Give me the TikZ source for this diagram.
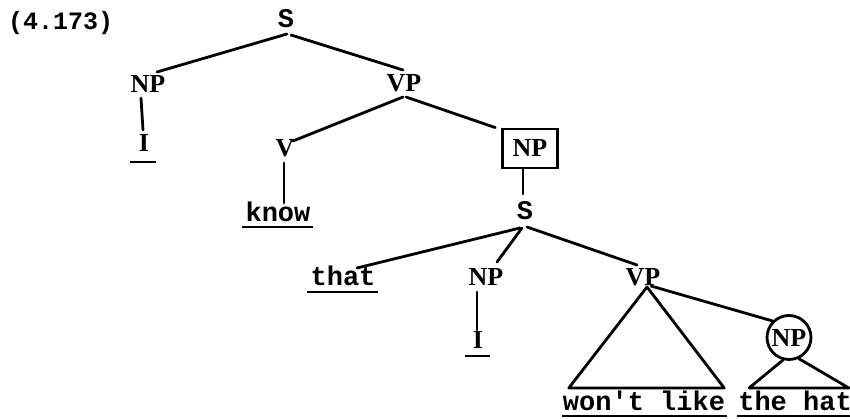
\documentclass[tikz,border=0pt]{standalone}
\usepackage{fontspec}
\setmainfont{Liberation Serif}
\setmonofont{Liberation Mono}
\usetikzlibrary{calc}
\begin{document}
\begin{tikzpicture}[x=1pt,y=-1pt,
  cat/.style={font=\bfseries\fontsize{26}{30}\selectfont, inner sep=0pt, anchor=base},
  tw/.style={font=\ttfamily\bfseries\fontsize{27}{30}\selectfont, inner sep=0pt, anchor=base},
  twb/.style={font=\ttfamily\bfseries\fontsize{27}{30}\selectfont, inner sep=0pt, anchor=base},
  edge/.style={line width=2.8pt, line cap=round, line join=round},
  uline/.style={line width=2.4pt}]
\useasboundingbox[fill=white] (0,0) rectangle (850,419);

% label
\node[twb, font=\ttfamily\bfseries\fontsize{25}{30}\selectfont, anchor=base west] (lab) at (8,30) {(4.173)};

% nodes
\node[twb] (S0) at (286,28) {S};
\node[cat] (NP1) at (148,93) {NP};
\node[cat] (I1) at (144,152) {I};
\node[cat] (VP0) at (404,92) {VP};
\node[cat] (V0) at (285,157) {V};
\node[cat, draw, line width=2.8pt, inner xsep=10pt, inner ysep=11pt] (NPb) at (530,157) {NP};
\node[tw] (know) at (278,222) {know};
\node[twb] (S1) at (525,220) {S};
\node[tw] (that) at (343,285) {that};
\node[cat] (NP2) at (486,285) {NP};
\node[cat] (I2) at (478,348) {I};
\node[cat] (VP1) at (643,285) {VP};
\node[cat, circle, draw, line width=2.8pt, inner sep=2pt] (NP3) at (789,346) {NP};
\node[tw] (wl) at (644,410) {won't like};
\node[tw] (hat) at (795,410) {the hat};

% underlines
\draw[uline] ($(I1.base west)+(-9,10)$) -- ($(I1.base east)+(7,10)$);
\draw[uline] ($(know.base west)+(-3,5)$) -- ($(know.base east)+(2,5)$);
\draw[uline] ($(that.base west)+(-3,7)$) -- ($(that.base east)+(2,7)$);
\draw[uline] ($(I2.base west)+(-8,8)$) -- ($(I2.base east)+(7,8)$);
\draw[uline] ($(wl.base west)+(-1,6)$) -- ($(wl.base east)+(2,6)$);
\draw[uline] ($(hat.base west)+(-1,6)$) -- ($(hat.base east)+(2,6)$);

% connectors
\draw[edge] ($(S0.base)+(1,6)$) -- ($(NP1.base)+(9,-21)$);
\draw[edge] ($(S0.base)+(5,7)$) -- ($(VP0.base)+(-1,-22)$);
\draw[edge] ($(NP1.base)+(-7,5)$) -- ($(I1.base)+(-1,-22)$);
\draw[edge] ($(VP0.base)+(-1,5)$) -- ($(V0.base)+(8,-16)$);
\draw[edge] ($(VP0.base)+(2,5)$) -- ($(NPb.north west)+(-6,0)$);
\draw[edge] ($(V0.base)+(-1,6)$) -- ($(know.base)+(6,-19)$);
\draw[edge] ($(NPb.south)+(-7,0)$) -- ($(S1.base)+(-2,-26)$);
\draw[edge] ($(S1.base)+(-5,8)$) -- ($(that.base)+(14,-17)$);
\draw[edge] ($(S1.base)+(-3,8)$) -- ($(NP2.base)+(11,-23)$);
\draw[edge] ($(S1.base)+(2,7)$) -- ($(VP1.base)+(-6,-20)$);
\draw[edge] ($(NP2.base)+(-9,7)$) -- ($(I2.base)+(-1,-18)$);
\draw[edge] ($(VP1.base)+(4,2)$) -- ($(wl.base west)+(6,-22)$) -- ($(wl.base east)+(-1,-22)$) -- cycle;
\draw[edge] ($(VP1.base)+(8,1)$) -- (NP3.north west);
\draw[edge] (NP3.255) -- ($(hat.base west)+(11,-22)$) -- ($(hat.base east)+(-3,-22)$) -- (NP3.295);
\end{tikzpicture}
\end{document}
